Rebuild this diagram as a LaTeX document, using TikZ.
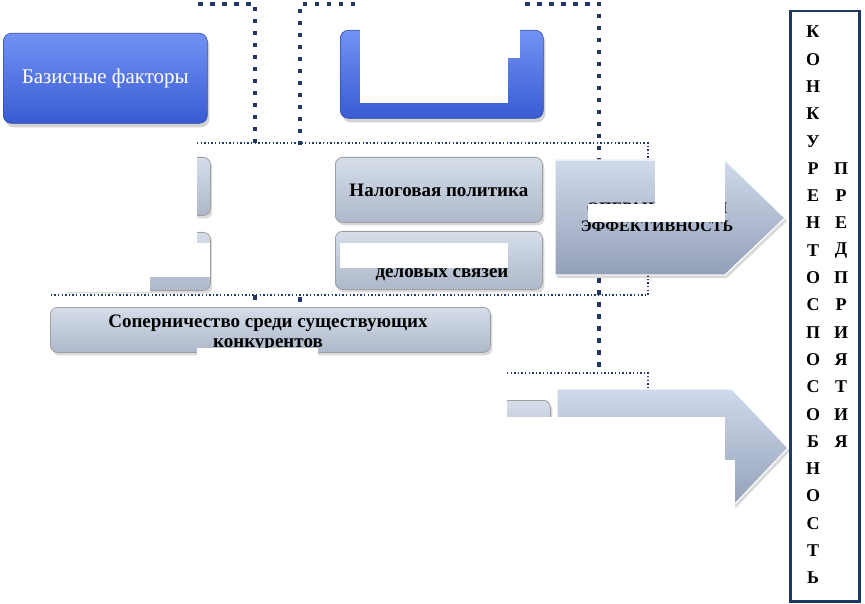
\documentclass[tikz,border=0pt]{standalone}
\usepackage{fontspec}
\setmainfont{Liberation Serif}
\usetikzlibrary{shadows}
\definecolor{navy}{HTML}{1F3864}
\definecolor{bluetop}{HTML}{7192F4}
\definecolor{bluebot}{HTML}{3A5BD2}
\definecolor{greytop}{HTML}{D5DDE9}
\definecolor{greybot}{HTML}{ADB8CA}
\definecolor{arrowtop}{HTML}{CFDAEB}
\definecolor{arrowbot}{HTML}{939FB8}
\tikzset{
  bluebox/.style={rounded corners=8pt, top color=bluetop, bottom color=bluebot,
    draw=bluebot!80!black, line width=0.6pt, anchor=north west, inner sep=0pt,
    drop shadow={shadow xshift=2pt, shadow yshift=-4pt, opacity=0.35},
    text=white, font=\fontsize{21}{24}\selectfont},
  greybox/.style={rounded corners=7pt, top color=greytop, middle color=white!80!greytop,
    bottom color=greybot, draw=gray!75, line width=0.8pt, anchor=north west, inner sep=0pt,
    drop shadow={shadow xshift=2pt, shadow yshift=-3pt, opacity=0.3},
    align=center, font=\bfseries\fontsize{19}{20}\selectfont},
  boxtext/.style={align=center, font=\bfseries\fontsize{19}{20}\selectfont, inner sep=0pt},
  arrowbox/.style={top color=arrowtop, bottom color=arrowbot,
    draw=white, line width=1.2pt,
    drop shadow={shadow xshift=2pt, shadow yshift=-3pt, opacity=0.3}},
  thickdots/.style={navy, line width=4.5pt, dash pattern=on 4.5pt off 7.5pt},
  thindots/.style={navy, line width=1.4pt, dash pattern=on 1.4pt off 2.2pt},
  mask/.style={fill=white},
  letter/.style={font=\bfseries\fontsize{18}{18}\selectfont, inner sep=0pt}
}
\begin{document}
\begin{tikzpicture}[x=1pt, y=-1pt]
  \useasboundingbox (0,0) rectangle (865,604);

  % dotted frames
  \draw [thickdots] (198,4) -- (255,4) -- (255,307);
  \draw [thickdots] (355,4) -- (300,4) -- (300,307);
  \draw [thickdots] (525,4) -- (599,4) -- (599,372);
  \draw [thindots] (197,143) -- (648,143) -- (648,295) -- (50,295);
  \draw [thindots] (507,373) -- (648,373) -- (648,390);

  % factor groups
  \node [bluebox, minimum width=204, minimum height=90] (basic) at (3,33) {Базисные факторы};
  \node [bluebox, minimum width=203, minimum height=88] (group) at (340,30) {};

  \node [greybox, minimum width=150, minimum height=58] (leftA) at (60,157) {};
  \node [greybox, minimum width=150, minimum height=58] (leftB) at (60,232) {};
  \node [greybox, minimum width=207, minimum height=65] (tax) at (335,157) {Налоговая политика};
  \node [greybox, minimum width=207, minimum height=58] (links) at (335,231) {};
  \node [boxtext] (linkstext) at (442,273) {деловых связей};
  \node [greybox, minimum width=440, minimum height=45] (rivals) at (50,307) {};
  \node [boxtext] (rivalstext) at (268,333) {Соперничество среди существующих\\конкурентов};
  \node [greybox, minimum width=210, minimum height=60] (lowbox) at (340,400) {};

  % arrows
  \fill [arrowbox] (555,160) -- (725,160) -- (785,218) -- (725,275) -- (555,275) -- cycle;
  \node [align=center, font=\bfseries\fontsize{16}{18}\selectfont, inner sep=0pt] (oper) at (657,217)
    {ОПЕРАЦИОННАЯ\\ЭФФЕКТИВНОСТЬ};
  \fill [arrowbox] (557,389) -- (732,389) -- (788,448) -- (732,507) -- (557,507) -- cycle;

  % hidden parts
  \fill [mask] (0,130) rectangle (197,277);
  \fill [mask] (0,277) rectangle (150,292);
  \fill [mask] (212,148) rectangle (333,290);
  \fill [mask] (150,243) rectangle (210,277);
  \fill [mask] (340,243) rectangle (508,268);
  \fill [mask] (360,25) rectangle (508,103);
  \fill [mask] (508,25) rectangle (520,58);
  \fill [mask] (197,348) rectangle (318,372);
  \fill [mask] (318,362) rectangle (507,604);
  \fill [mask] (655,158) rectangle (725,222);
  \fill [mask] (588,204) rectangle (725,222);
  \fill [mask] (507,417) rectangle (725,460);
  \fill [mask] (507,460) rectangle (735,520);

  % result
  \node [draw=navy, line width=2.5pt, anchor=north west, minimum width=69, minimum height=590,
    inner sep=0pt] (result) at (789,10) {};
  \foreach \l [count=\i] in {К,О,Н,К,У,Р,Е,Н,Т,О,С,П,О,С,О,Б,Н,О,С,Т,Ь}
    \node [letter] (c\i) at (813,{32+27.3*(\i-1)}) {\l};
  \foreach \l [count=\i] in {П,Р,Е,Д,П,Р,И,Я,Т,И,Я}
    \node [letter] (e\i) at (841,{168.5+27.3*(\i-1)}) {\l};
\end{tikzpicture}
\end{document}
